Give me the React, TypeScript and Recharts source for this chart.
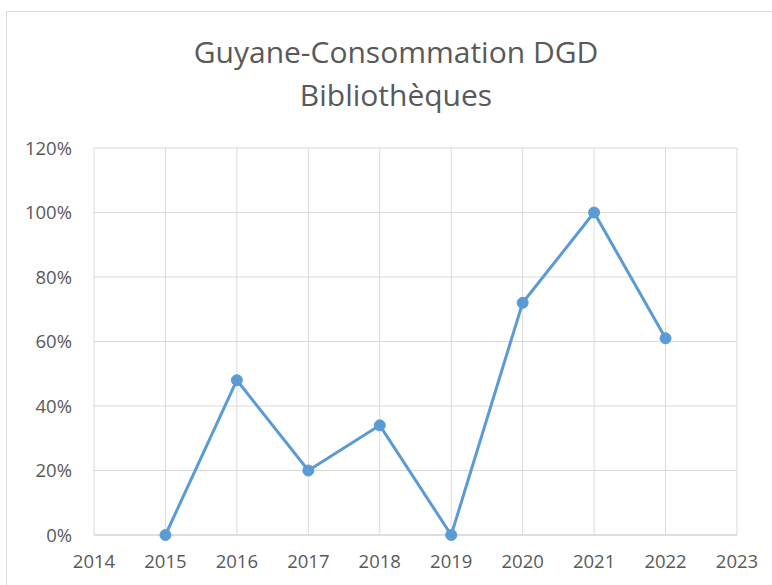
import React from "react";
import { LineChart, Line, XAxis, YAxis, CartesianGrid } from "recharts";

const years = [2015, 2016, 2017, 2018, 2019, 2020, 2021, 2022];
const consumption = [0, 48, 20, 34, 0, 72, 100, 61];
const xTicks = [2014, 2015, 2016, 2017, 2018, 2019, 2020, 2021, 2022, 2023];
const yTicks = [0, 20, 40, 60, 80, 100, 120];
const titleLines = ["Guyane-Consommation DGD", "Bibliothèques"];

const data = years.map((year, i) => ({ year, value: consumption[i] }));

const font = "'Open Sans', sans-serif";
const tick = { fontSize: 18.5, fill: "#595959", fontFamily: font };

export default function App() {
  return (
    <div style={{ position: "fixed", left: 0, top: 0, width: 772, height: 585, background: "#fff", overflow: "hidden" }}>
      <div style={{ position: "absolute", left: 6, top: 11, width: 800, height: 600, border: "1px solid #d9d9d9" }} />
      <div
        style={{
          position: "absolute",
          left: 0,
          top: 30,
          width: 792,
          textAlign: "center",
          fontFamily: font,
          fontSize: 30,
          lineHeight: "43px",
          color: "#595959",
        }}
      >
        {titleLines.map((t) => (
          <div key={t}>{t}</div>
        ))}
      </div>
      <div style={{ position: "absolute", left: 0, top: 0 }}>
        <LineChart width={772} height={585} data={data} margin={{ top: 148, right: 35, left: 0, bottom: 0 }}>
          <CartesianGrid stroke="#d9d9d9" strokeWidth={1} />
          <XAxis
            dataKey="year"
            type="number"
            domain={[2014, 2023]}
            ticks={xTicks}
            tick={tick}
            tickSize={0}
            tickMargin={20}
            height={50}
            axisLine={{ stroke: "#d0d0d0" }}
            interval={0}
          />
          <YAxis
            domain={[0, 120]}
            ticks={yTicks}
            tickFormatter={(v) => `${v}%`}
            tick={tick}
            tickSize={0}
            tickMargin={22}
            width={94}
            axisLine={false}
            interval={0}
          />
          <Line
            type="linear"
            dataKey="value"
            stroke="#5B9BD5"
            strokeWidth={3}
            dot={{ r: 5.5, fill: "#5B9BD5", stroke: "#5B9BD5", strokeWidth: 1 }}
            isAnimationActive={false}
          />
        </LineChart>
      </div>
    </div>
  );
}
